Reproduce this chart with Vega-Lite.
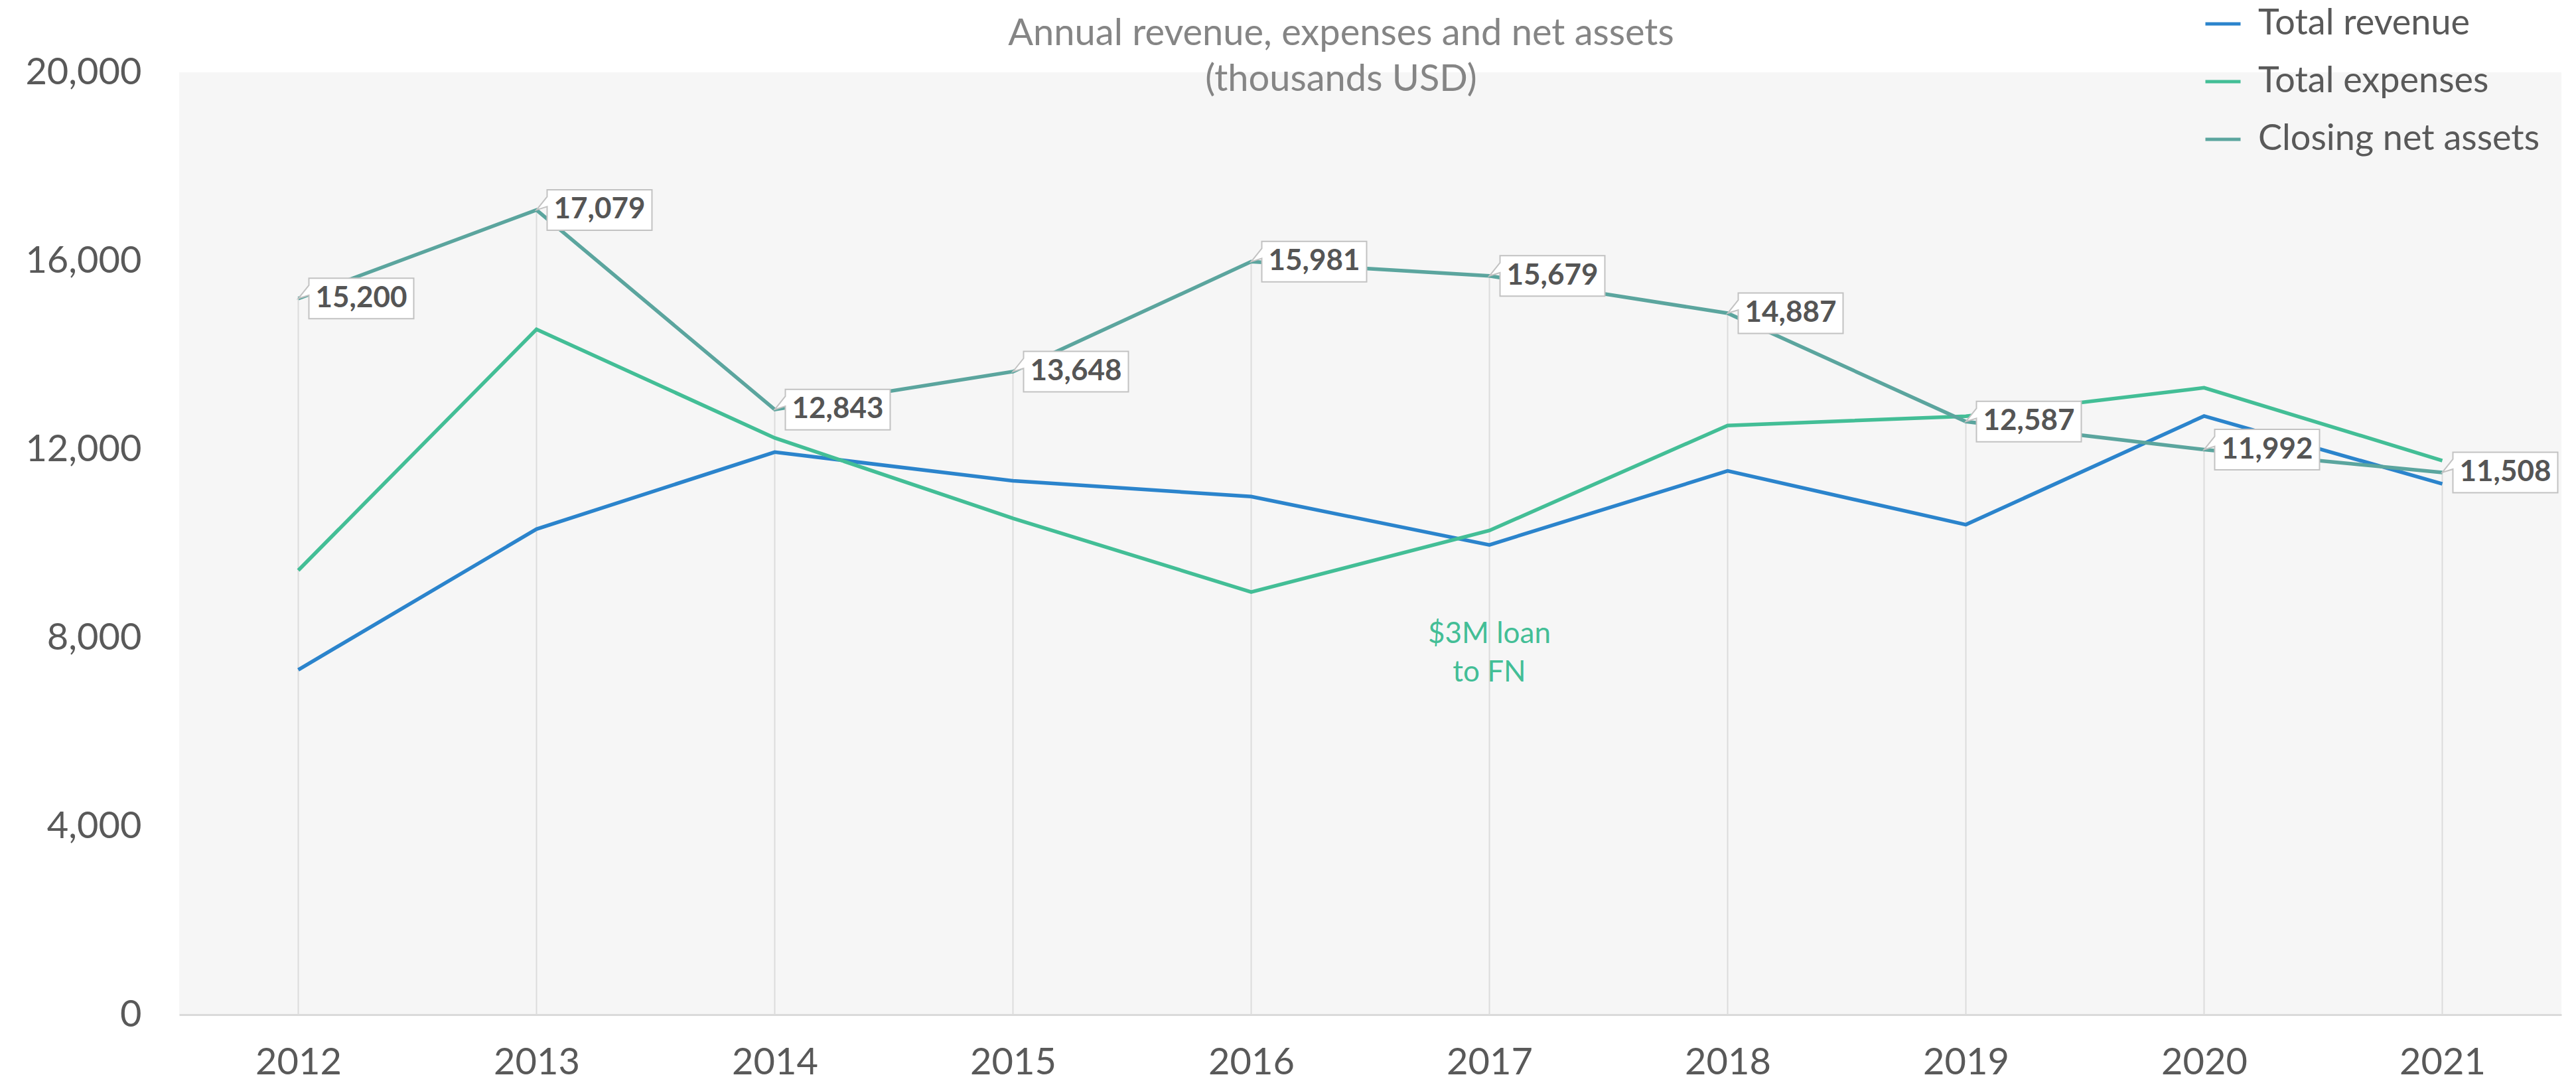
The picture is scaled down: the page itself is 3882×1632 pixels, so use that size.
{
  "$schema": "https://vega.github.io/schema/vega-lite/v6.json",
  "autosize": {"type": "none"},
  "width": 3590,
  "height": 1420,
  "padding": {"left": 270, "top": 109, "right": 22, "bottom": 103},
  "background": "#ffffff",
  "config": {
    "font": "Lato",
    "view": {"stroke": null, "fill": "#f6f6f6"},
    "legend": {
      "orient": "none",
      "legendX": 3051,
      "legendY": -102,
      "padding": 0,
      "symbolType": "stroke",
      "symbolSize": 2809,
      "symbolStrokeWidth": 5,
      "labelFontSize": 54,
      "labelColor": "#595959",
      "labelFont": "Lato",
      "labelOffset": 24,
      "rowPadding": 31,
      "labelLimit": 0
    }
  },
  "title": {
    "text": ["Annual revenue, expenses and net assets", "(thousands USD)"],
    "fontSize": 56,
    "fontWeight": "normal",
    "font": "Lato",
    "color": "#858585",
    "lineHeight": 69,
    "anchor": "middle",
    "dx": -44,
    "offset": -142
  },
  "datasets": {
    "finance": [
      {"year": "2012", "series": "Total revenue", "value": 7320},
      {"year": "2013", "series": "Total revenue", "value": 10305},
      {"year": "2014", "series": "Total revenue", "value": 11940},
      {"year": "2015", "series": "Total revenue", "value": 11330},
      {"year": "2016", "series": "Total revenue", "value": 10995},
      {"year": "2017", "series": "Total revenue", "value": 9970},
      {"year": "2018", "series": "Total revenue", "value": 11540},
      {"year": "2019", "series": "Total revenue", "value": 10400},
      {"year": "2020", "series": "Total revenue", "value": 12705},
      {"year": "2021", "series": "Total revenue", "value": 11265},
      {"year": "2012", "series": "Total expenses", "value": 9430},
      {"year": "2013", "series": "Total expenses", "value": 14545},
      {"year": "2014", "series": "Total expenses", "value": 12240},
      {"year": "2015", "series": "Total expenses", "value": 10535},
      {"year": "2016", "series": "Total expenses", "value": 8970},
      {"year": "2017", "series": "Total expenses", "value": 10275},
      {"year": "2018", "series": "Total expenses", "value": 12505},
      {"year": "2019", "series": "Total expenses", "value": 12700},
      {"year": "2020", "series": "Total expenses", "value": 13305},
      {"year": "2021", "series": "Total expenses", "value": 11760},
      {"year": "2012", "series": "Closing net assets", "value": 15200},
      {"year": "2013", "series": "Closing net assets", "value": 17079},
      {"year": "2014", "series": "Closing net assets", "value": 12843},
      {"year": "2015", "series": "Closing net assets", "value": 13648},
      {"year": "2016", "series": "Closing net assets", "value": 15981},
      {"year": "2017", "series": "Closing net assets", "value": 15679},
      {"year": "2018", "series": "Closing net assets", "value": 14887},
      {"year": "2019", "series": "Closing net assets", "value": 12587},
      {"year": "2020", "series": "Closing net assets", "value": 11992},
      {"year": "2021", "series": "Closing net assets", "value": 11508}
    ],
    "notes": [
      {"year": "2017", "value": 8070, "note": "$3M loan\nto FN"}
    ]
  },
  "encoding": {
    "x": {
      "field": "year",
      "type": "ordinal",
      "scale": {"type": "point", "padding": 0.5},
      "axis": {
        "title": null,
        "labelAngle": 0,
        "labelFontSize": 56,
        "labelColor": "#595959",
        "labelFont": "Lato",
        "labelPadding": 45,
        "ticks": false,
        "grid": false,
        "domain": true,
        "domainColor": "#dadada",
        "domainWidth": 3
      }
    },
    "y": {
      "field": "value",
      "type": "quantitative",
      "scale": {"domain": [0, 20000], "nice": false, "zero": true},
      "axis": {
        "title": null,
        "values": [0, 4000, 8000, 12000, 16000, 20000],
        "labelExpr": "format(datum.value, ',')",
        "labelFontSize": 56,
        "labelColor": "#595959",
        "labelFont": "Lato",
        "labelPadding": 57,
        "ticks": false,
        "grid": false,
        "domain": false
      }
    }
  },
  "layer": [
    {
      "data": {"name": "finance"},
      "transform": [{"filter": "datum.series === 'Closing net assets'"}],
      "mark": {"type": "rule", "color": "#dcdcdc", "strokeWidth": 2},
      "encoding": {
        "y2": {"datum": 0}
      }
    },
    {
      "data": {"name": "finance"},
      "mark": {"type": "line", "strokeWidth": 5.5},
      "encoding": {
        "color": {
          "field": "series",
          "type": "nominal",
          "scale": {
            "domain": ["Total revenue", "Total expenses", "Closing net assets"],
            "range": ["#2b84cc", "#43be96", "#5ba59e"]
          },
          "legend": {"title": null}
        }
      }
    },
    {
      "data": {"name": "finance"},
      "transform": [{"filter": "datum.series === 'Closing net assets'"}],
      "mark": {
        "type": "point",
        "shape": "M0.2025,-0.386L2.2025,-0.386L2.2025,0.386L0.2025,0.386L0.2025,-0.063L0,0L0.2025,-0.253Z",
        "size": 24964,
        "filled": true,
        "fill": "#ffffff",
        "stroke": "#c2c2c2",
        "strokeWidth": 2,
        "opacity": 1
      }
    },
    {
      "data": {"name": "finance"},
      "transform": [{"filter": "datum.series === 'Closing net assets'"}],
      "mark": {
        "type": "text",
        "dx": 95,
        "align": "center",
        "baseline": "middle",
        "fontSize": 44,
        "fontWeight": "bold",
        "font": "Lato",
        "color": "#555555"
      },
      "encoding": {
        "text": {"field": "value", "type": "quantitative", "format": ","}
      }
    },
    {
      "data": {"name": "notes"},
      "mark": {
        "type": "text",
        "align": "center",
        "baseline": "middle",
        "fontSize": 44,
        "font": "Lato",
        "color": "#43be96",
        "lineBreak": "\n",
        "lineHeight": 58
      },
      "encoding": {
        "text": {"field": "note"}
      }
    }
  ]
}
